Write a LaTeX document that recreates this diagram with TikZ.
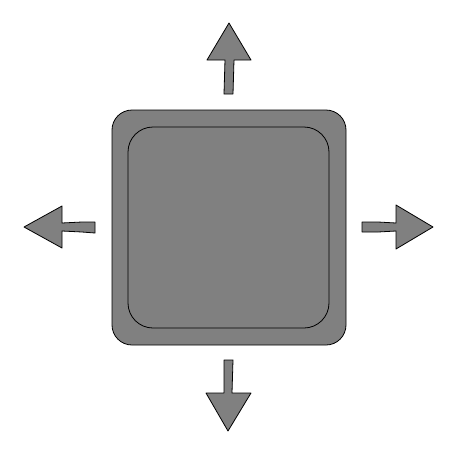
\documentclass[tikz,border=0pt]{standalone}
\begin{document}
\begin{tikzpicture}[x=1pt,y=-1pt,
  shapefill/.style={fill=gray!100!black!50!white, fill={rgb,255:red,128;green,128;blue,128}, draw=black, line width=0.8pt, line join=round},
  box/.style={shapefill, rounded corners=#1, inner sep=0pt, anchor=center}]
\useasboundingbox (0,0) rectangle (475,456);
\node[box=20pt, minimum width=234pt, minimum height=235pt] (outer) at (229,227.5) {};
\node[box=25pt, minimum width=201pt, minimum height=201pt] (inner) at (228.5,227.5) {};
% up arrow
\draw[shapefill] (224,94) -- (233,94) -- (234,60) -- (251,60) -- (229,23) -- (207,60) -- (225,60) -- cycle;
% down arrow
\draw[shapefill] (224,360) -- (233,360) -- (232,393) -- (251,393) -- (228,431) -- (206,393) -- (224,393) -- cycle;
% left arrow
\draw[shapefill] (95,222) -- (95,233) -- (82,232) -- (62,231) -- (62,248) -- (24,227) -- (62,206) -- (62,223) -- (82,222) -- cycle;
% right arrow
\draw[shapefill] (362,222) -- (362,232) -- (378,232) -- (396,231) -- (396,249) -- (433,227) -- (396,205) -- (396,223) -- (378,222) -- cycle;
\end{tikzpicture}
\end{document}
